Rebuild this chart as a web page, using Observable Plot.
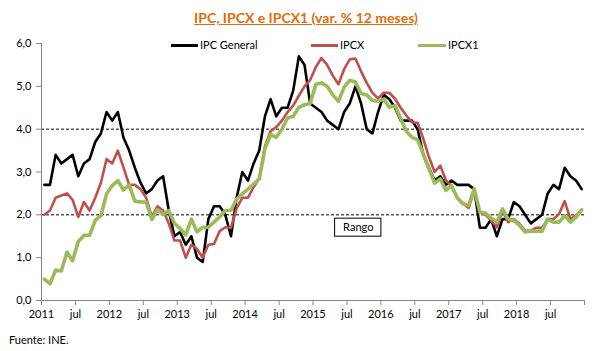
<!DOCTYPE html>
<html><head><meta charset="utf-8">
<script src="https://cdn.jsdelivr.net/npm/d3@7"></script>
<script src="https://cdn.jsdelivr.net/npm/@observablehq/plot@0.6"></script>
<style>
body{margin:0;background:#fff;font-family:Lato,"Open Sans",sans-serif;}
#wrap{position:relative;width:599px;height:351px;overflow:hidden;background:#fff}
#chart{position:absolute;left:0;top:0}
#title{position:absolute;left:0;width:612px;top:10px;text-align:center;font-weight:bold;font-size:14px;color:#E46C0A;text-decoration:underline;line-height:16px}
.lg{position:absolute;font-size:11px;line-height:14px;top:38px;color:#000}
.sw{position:absolute;height:3px;top:44px}
#cap{position:absolute;left:9px;top:333px;font-size:11px;color:#000}
</style></head>
<body>
<div id="wrap">
  <div id="chart"></div>
  <div id="title">IPC, IPCX e IPCX1 (var. % 12 meses)</div>
  <div class="sw" style="left:171px;width:27px;background:#000"></div><div class="lg" style="left:200px">IPC General</div>
  <div class="sw" style="left:311px;width:27px;background:#C0504D"></div><div class="lg" style="left:340px">IPCX</div>
  <div class="sw" style="left:418px;width:28px;background:#9BBB59"></div><div class="lg" style="left:448px">IPCX1</div>
  <div id="cap">Fuente: INE.</div>
</div>
<script>
// Monthly values, Jan 2011 – Dec 2018
const ipcGeneral = [
  2.7,2.7,3.4,3.2,3.3,3.4,2.9,3.2,3.3,3.7,3.9,4.4,
  4.2,4.4,3.8,3.5,3.1,2.75,2.5,2.6,2.8,2.9,2.1,1.5,
  1.6,1.3,1.5,1.0,0.9,1.9,2.2,2.2,2.0,1.5,2.4,3.0,
  2.8,3.2,3.5,4.3,4.7,4.3,4.5,4.5,4.9,5.7,5.5,4.6,
  4.5,4.4,4.2,4.1,4.0,4.4,4.6,5.0,4.6,4.0,3.9,4.4,
  4.8,4.7,4.5,4.2,4.2,4.2,4.0,3.4,3.1,2.8,2.9,2.7,
  2.8,2.7,2.7,2.7,2.6,1.7,1.7,1.9,1.5,1.9,1.9,2.3,
  2.2,2.0,1.8,1.9,2.0,2.5,2.7,2.6,3.1,2.9,2.8,2.6
];
const ipcx = [
  2.0,2.1,2.4,2.45,2.5,2.35,1.95,2.3,2.1,2.4,2.75,3.3,
  3.2,3.5,3.1,2.7,2.7,2.6,2.4,1.95,2.2,2.1,1.8,1.4,
  1.4,1.0,1.3,1.2,1.0,1.3,1.32,1.62,1.71,1.7,2.15,2.4,
  2.4,2.65,2.85,3.6,3.95,4.05,4.2,4.4,4.55,4.78,5.0,5.15,
  5.45,5.66,5.5,5.25,5.05,5.4,5.63,5.65,5.35,5.08,4.85,4.72,
  4.85,4.85,4.71,4.5,4.32,4.16,4.15,3.78,3.35,3.0,3.15,2.8,
  2.68,2.4,2.27,2.16,2.57,2.06,2.0,1.87,1.71,2.1,1.83,1.9,
  1.79,1.63,1.63,1.7,1.7,1.9,1.9,2.02,2.32,1.9,1.98,2.12
];
const ipcx1 = [
  0.5,0.39,0.71,0.69,1.13,0.93,1.38,1.52,1.52,1.87,1.98,2.49,
  2.68,2.8,2.58,2.7,2.32,2.3,2.3,1.89,2.12,2.01,2.1,1.8,
  1.68,1.53,1.9,1.6,1.71,1.71,1.83,1.95,2.1,2.1,2.37,2.49,
  2.6,2.72,2.84,3.54,3.87,3.81,4.0,4.26,4.3,4.51,4.57,4.6,
  5.05,5.08,5.0,4.8,4.65,4.98,5.14,5.1,4.83,4.8,4.67,4.65,
  4.7,4.51,4.55,4.25,3.95,3.81,3.75,3.42,3.07,2.74,2.84,2.57,
  2.68,2.4,2.26,2.22,2.61,2.06,2.04,1.92,1.83,2.14,1.9,1.87,
  1.75,1.6,1.62,1.62,1.62,1.9,1.83,1.83,1.98,1.83,1.94,2.12
];
const xTickLabels = ["2011","jul","2012","jul","2013","jul","2014","jul","2015","jul","2016","jul","2017","jul","2018","jul",""];
const yTicks = [0,1,2,3,4,5,6];
const refLines = [2,4];
const notes = [{x:56, y:1.7, label:"Rango"}];

const series = [
  {name:"IPC General", values:ipcGeneral, color:"#000000", width:2.6},
  {name:"IPCX", values:ipcx, color:"#C0504D", width:2.6},
  {name:"IPCX1", values:ipcx1, color:"#9BBB59", width:3.6}
];
const tickPos = xTickLabels.map((_, i) => i * 6);
const labelAt = new Map(tickPos.map((p, i) => [p, xTickLabels[i]]));

const plot = Plot.plot({
  width: 599, height: 351,
  marginLeft: 41, marginRight: 15, marginTop: 43, marginBottom: 51,
  style: {fontFamily: "Lato, 'Open Sans', sans-serif", fontSize: "11px", color: "#000", background: "transparent"},
  x: {domain: [0, 96]},
  y: {domain: [0, 6]},
  marks: [
    Plot.ruleY(refLines, {stroke: "#000", strokeDasharray: "3,2", strokeWidth: 1}),
    Plot.axisY({ticks: yTicks, tickFormat: d => d.toFixed(1).replace(".", ","), tickSize: 5, tickPadding: 5, stroke: "#868686", label: null}),
    Plot.axisX({ticks: tickPos, tickFormat: d => labelAt.get(d) ?? "", tickSize: 5, tickPadding: 5, stroke: "#868686", label: null}),
    Plot.ruleX([0], {stroke: "#868686"}),
    Plot.ruleY([0], {stroke: "#868686"}),
    ...series.map(s => Plot.line(s.values, {
      x: (d, i) => i + 0.5, y: d => d,
      stroke: s.color, strokeWidth: s.width, strokeLinejoin: "round", strokeLinecap: "round"
    })),
    Plot.text(notes, {x: "x", y: "y", text: "label", fontSize: 11, fill: "#000", textAnchor: "middle", lineAnchor: "middle"})
  ]
});
document.getElementById("chart").appendChild(plot);

// Box around the annotation, placed through the plot's own scales
const sx = plot.scale("x"), sy = plot.scale("y");
const ctx = document.createElement("canvas").getContext("2d");
ctx.font = "11px Lato";
notes.forEach(n => {
  const cx = sx.apply(n.x), cy = sy.apply(n.y);
  const w = ctx.measureText(n.label).width + 16, h = 18;
  const r = document.createElementNS("http://www.w3.org/2000/svg", "rect");
  r.setAttribute("x", cx - w / 2); r.setAttribute("y", cy - h / 2);
  r.setAttribute("width", w); r.setAttribute("height", h);
  r.setAttribute("fill", "none"); r.setAttribute("stroke", "#000"); r.setAttribute("stroke-width", 1);
  plot.appendChild(r);
});
</script>
</body></html>
